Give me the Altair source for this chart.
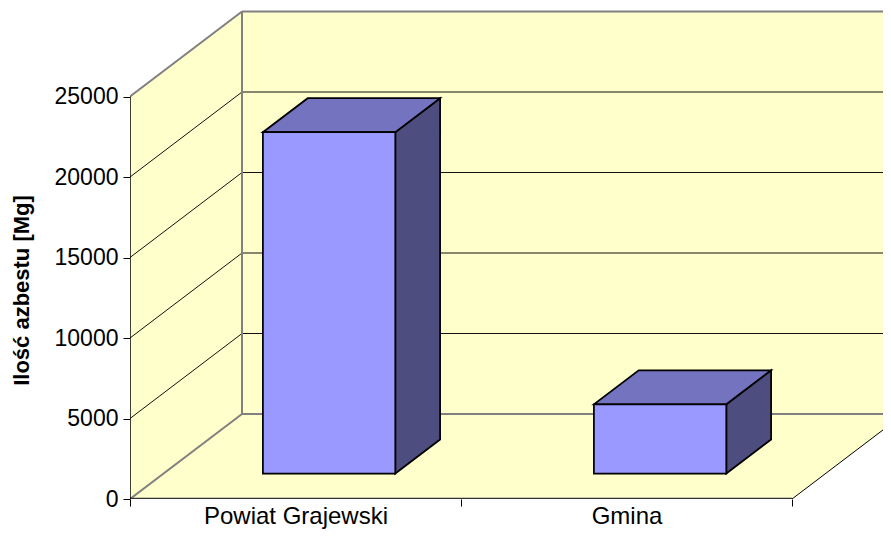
import altair as alt
import pandas as pd

# ---- data ----
categories = ["Powiat Grajewski", "Gmina"]
values = [21200, 4300]
y_ticks = [0, 5000, 10000, 15000, 20000, 25000]
y_title = "Ilość azbestu [Mg]"

# ---- 3D projection geometry (layout constants) ----
Y_MAX = y_ticks[-1]
PX_PER_CAT = 331.0
PX_PER_VAL = 402.5 / Y_MAX
DX = 112 / PX_PER_CAT          # depth shift in category units
DY = 85 / PX_PER_VAL           # depth shift in value units
BAR_W = 0.4
Z0, Z1 = 0.3, 0.7              # bar depth (front / back fraction)
W, H = 753, 491
XMAX = W / PX_PER_CAT
YMAX_DOM = H / PX_PER_VAL
N = len(categories)
FONT = "Liberation Sans"

WALL = "#FFFFCC"
EDGE = "#808080"
FRONT = "#9999FF"
TOPC = "#7373BF"
SIDE = "#4D4D80"

xs = alt.Scale(domain=[0, XMAX], nice=False, zero=False)
ys = alt.Scale(domain=[0, YMAX_DOM], nice=False, zero=False)

label_expr = " : ".join(
    f"datum.value == {i} ? '{c}'" for i, c in enumerate(categories)) + " : ''"

x_axis = alt.Axis(values=list(range(N + 1)), labelExpr=label_expr,
                  labelOffset=PX_PER_CAT / 2, tickSize=7, tickColor="black",
                  tickWidth=1, domain=False, grid=False, labelFont=FONT,
                  labelFontSize=24, labelColor="black", labelPadding=-2,
                  labelAlign="center", labelBaseline="top", labelFlush=False,
                  labelOverlap=False, labelLimit=0, title=None)
y_axis = alt.Axis(values=y_ticks, format="d", tickSize=7, tickColor="black",
                  tickWidth=1, domain=False, grid=False, labelFont=FONT,
                  labelFontSize=23, labelColor="black", labelPadding=5,
                  labelOverlap=False, labelLimit=0, title=y_title, titleFont=FONT,
                  titleFontSize=22, titleFontWeight="bold", titleColor="black",
                  titleX=-109, titleY=282, titleAngle=270, titleAlign="center",
                  titleBaseline="middle")

X = alt.X("x:Q", scale=xs, axis=x_axis)
Y = alt.Y("y:Q", scale=ys, axis=y_axis)

# ---- walls and floor ----
back_df = pd.DataFrame({"x": [DX], "x2": [N + DX], "y": [DY], "y2": [DY + Y_MAX]})
back = alt.Chart(back_df).mark_rect(fill=WALL, clip=True).encode(
    x=X, x2="x2:Q", y=Y, y2="y2:Q")

left_df = pd.DataFrame({"x": [0, DX], "y": [0, DY], "y2": [Y_MAX, Y_MAX + DY]})
left = alt.Chart(left_df).mark_area(fill=WALL, orient="vertical", clip=True).encode(
    x=X, y=Y, y2="y2:Q")

floor_df = pd.DataFrame({"x": [0, DX, N, N + DX],
                         "y": [0, 0, 0, DY],
                         "y2": [0, DY, DY, DY]})
floor = alt.Chart(floor_df).mark_area(fill=WALL, orient="vertical", clip=True).encode(
    x=X, y=Y, y2="y2:Q")


def segs(pairs):
    rows = []
    for g, ((x1, y1), (x2, y2)) in enumerate(pairs):
        rows.append({"g": g, "o": 0, "x": x1, "y": y1})
        rows.append({"g": g, "o": 1, "x": x2, "y": y2})
    return pd.DataFrame(rows)


def lines(pairs, color, width):
    return alt.Chart(segs(pairs)).mark_line(
        color=color, strokeWidth=width, clip=True).encode(
        x=X, y=Y, detail="g:N", order="o:Q")


grid_pairs = []
for v in y_ticks[1:-1]:
    grid_pairs.append(((0, v), (DX, v + DY)))
    grid_pairs.append(((DX, v + DY), (N + DX, v + DY)))
grid = lines(grid_pairs, "#111111", 1)

edge_pairs = [
    ((0, Y_MAX), (DX, Y_MAX + DY)),
    ((DX, Y_MAX + DY), (N + DX, Y_MAX + DY)),
    ((DX, DY), (DX, Y_MAX + DY)),
    ((0, 0), (DX, DY)),
    ((DX, DY), (N + DX, DY)),
]
edges = lines(edge_pairs, EDGE, 2)
front_edge = lines([((0, 0), (N, 0))], "#333333", 2.5)
right_edge = lines([((N, 0), (N + DX, DY))], "#000000", 1)
left_edge = lines([((0, 0), (0, Y_MAX))], "#000000", 1.5)

# ---- bars ----
fr, tp, sd = [], [], []
dd = (Z1 - Z0) * DX
dv = (Z1 - Z0) * DY
for i, v in enumerate(values):
    a = i + (1 - BAR_W) / 2 + Z0 * DX
    b = a + BAR_W
    base = Z0 * DY
    top = base + v
    fr.append({"bar": i, "x": a, "x2": b, "y": base, "y2": top})
    tp += [{"bar": i, "x": a, "y": top, "y2": top},
           {"bar": i, "x": a + dd, "y": top, "y2": top + dv},
           {"bar": i, "x": b, "y": top, "y2": top + dv},
           {"bar": i, "x": b + dd, "y": top + dv, "y2": top + dv}]
    sd += [{"bar": i, "x": b, "y": base, "y2": top},
           {"bar": i, "x": b + dd, "y": base + dv, "y2": top + dv}]

side = alt.Chart(pd.DataFrame(sd)).mark_area(
    fill=SIDE, stroke="black", strokeWidth=1.75, strokeJoin="miter",
    orient="vertical", clip=True).encode(x=X, y=Y, y2="y2:Q", detail="bar:N")
topf = alt.Chart(pd.DataFrame(tp)).mark_area(
    fill=TOPC, stroke="black", strokeWidth=1.75, strokeJoin="miter",
    orient="vertical", clip=True).encode(x=X, y=Y, y2="y2:Q", detail="bar:N")
front = alt.Chart(pd.DataFrame(fr)).mark_rect(
    fill=FRONT, stroke="black", strokeWidth=1.75, clip=True).encode(
    x=X, x2="x2:Q", y=Y, y2="y2:Q")

chart = alt.layer(
    back, left, floor, grid, edges, front_edge, right_edge, left_edge,
    side, topf, front
).properties(
    width=W, height=H,
    padding={"left": 122, "top": 0, "right": 0, "bottom": 31},
    autosize=alt.AutoSizeParams(type="none"),
    background="white",
).configure_view(stroke=None)

chart.save("out.html", embed_options={"renderer": "svg", "actions": False})
